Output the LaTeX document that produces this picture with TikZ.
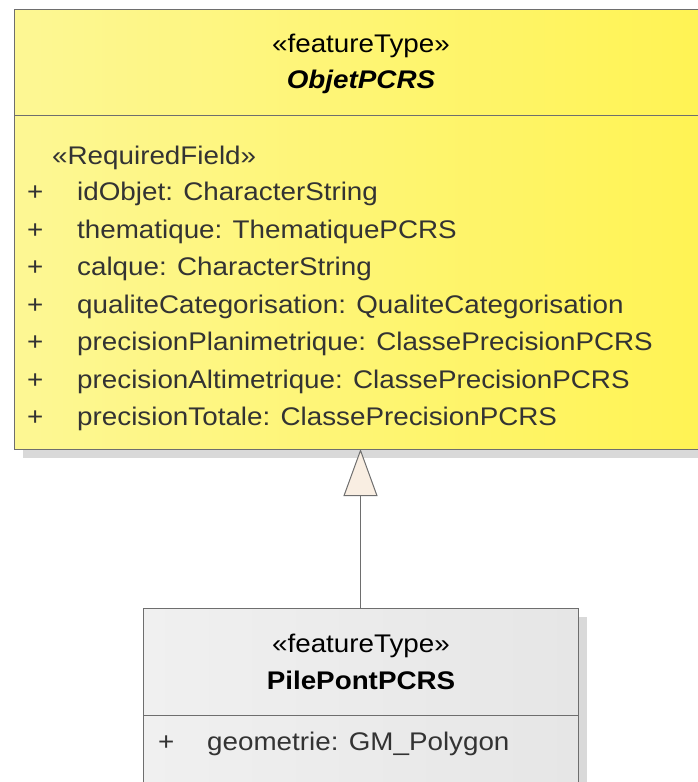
\documentclass[tikz,border=0pt]{standalone}
\usepackage{fontspec}
\setmainfont[FakeStretch=1.09]{Liberation Sans}
\usetikzlibrary{arrows.meta}
\definecolor{boxline}{HTML}{6E6E6E}
\definecolor{shadowgrey}{HTML}{D9D9D9}
\definecolor{yelL}{HTML}{FDF794}
\definecolor{yelM}{HTML}{FFFFC8}
\definecolor{yelR}{HTML}{FFF352}
\definecolor{gryL}{HTML}{F0F0F0}
\definecolor{gryM}{HTML}{FFFFFF}
\definecolor{gryR}{HTML}{E6E6E6}
\definecolor{attrtext}{HTML}{333333}
\definecolor{tipfill}{HTML}{F9EEE2}
\tikzset{
  classbox/.style={draw=boxline, line width=1pt, rectangle, inner sep=0pt, outer sep=0pt},
  umltext/.style={inner sep=0pt, font=\fontsize{25.5}{30}\selectfont},
  attr/.style={umltext, anchor=base west, text=attrtext},
  title/.style={umltext, anchor=base, text=black},
}
\begin{document}
\begin{tikzpicture}[x=1pt, y=-1pt]
\useasboundingbox (0,0) rectangle (698,782);
\clip (0,0) rectangle (698,782);

% drop shadows
\fill[shadowgrey] (23,440) rectangle (720,458);
\fill[shadowgrey] (570,617) rectangle (587,800);

% superclass ObjetPCRS
\node[classbox, left color=yelL, middle color=yelM, right color=yelR,
      minimum width=706pt, minimum height=440pt] (super) at (367,229) {};
\draw[boxline, line width=1pt] (14,115) -- (720,115);
\node[title] (superst) at (361,52) {«featureType»};
\node[title, font=\fontsize{25.5}{30}\selectfont\bfseries\itshape] (supername) at (361,88) {ObjetPCRS};
\node[attr] (reqf) at (52,164) {«RequiredField»};
\foreach \y/\n/\t in {200.5/a1/{idObjet: CharacterString},
                      238/a2/{thematique: ThematiquePCRS},
                      275.5/a3/{calque: CharacterString},
                      313/a4/{qualiteCategorisation: QualiteCategorisation},
                      350.5/a5/{precisionPlanimetrique: ClassePrecisionPCRS},
                      388/a6/{precisionAltimetrique: ClassePrecisionPCRS},
                      425.5/a7/{precisionTotale: ClassePrecisionPCRS}} {
  \node[attr] (vis-\n) at (27,\y) {+};
  \node[attr] (\n) at (77,\y) {\t};
}

% subclass PilePontPCRS
\node[classbox, left color=gryL, middle color=gryM, right color=gryR,
      minimum width=435pt, minimum height=192pt] (sub) at (360.5,704) {};
\draw[boxline, line width=1pt] (143,715) -- (578,715);
\node[title] (subst) at (361,652) {«featureType»};
\node[title, font=\fontsize{25.5}{30}\selectfont\bfseries] (subname) at (361,689) {PilePontPCRS};
\node[attr] (vis-g) at (158,750) {+};
\node[attr] (geom) at (207,750) {geometrie: GM\_Polygon};

% generalization
\draw[boxline, line width=1pt,
      -{Triangle[length=47pt, width=34pt, fill=tipfill, line width=1pt]}]
  (sub.north) -- (sub.north |- super.south);
\end{tikzpicture}
\end{document}
